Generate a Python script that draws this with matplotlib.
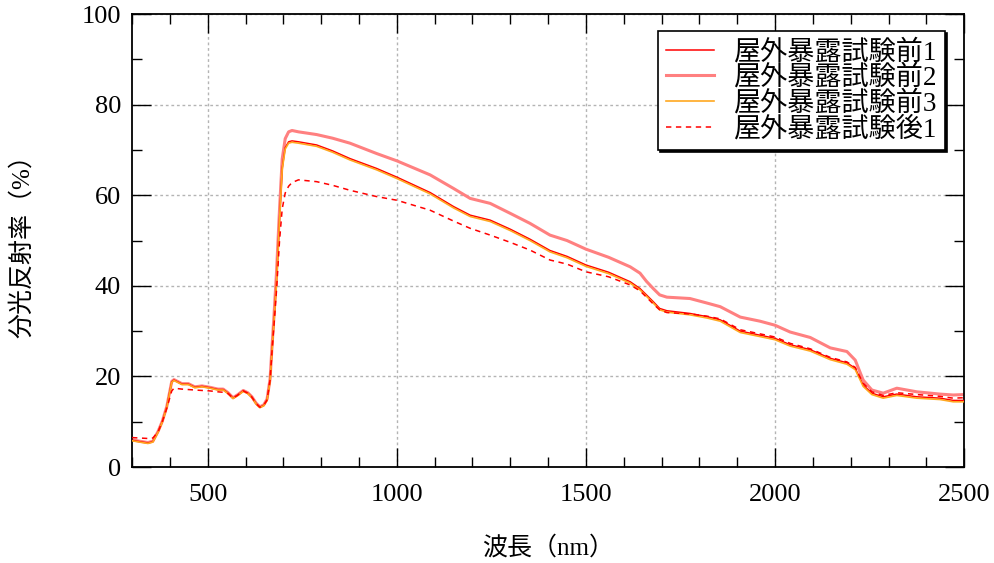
import numpy as np
import matplotlib
matplotlib.use("Agg")
import matplotlib.pyplot as plt
from matplotlib.ticker import MultipleLocator

plt.rcParams['font.family'] = ['Liberation Serif', 'Noto Sans CJK JP', 'DejaVu Sans']

# wavelength grid (nm), shared by all series
wavelength = [300, 320, 342, 355, 369, 380, 392, 405, 411, 432, 449, 466, 485, 506, 527, 541,
              554, 567, 580, 594, 606, 617, 628, 638, 648, 657, 665, 670, 675, 682, 690, 697,
              705, 714, 723, 740, 788, 830, 876, 947, 1000, 1088, 1150, 1194, 1247, 1300, 1352,
              1405, 1450, 1500, 1560, 1617, 1643, 1660, 1678, 1695, 1714, 1775, 1820, 1855, 1908,
              1960, 2000, 2040, 2093, 2146, 2190, 2212, 2233, 2256, 2286, 2322, 2375, 2436, 2471, 2500]

before_1 = [5.9, 5.6, 5.3, 5.6, 7.8, 10.0, 13.3, 18.8, 19.2, 18.3, 18.3, 17.6, 17.8, 17.5, 17.1, 17.1,
            16.3, 15.2, 15.9, 16.8, 16.3, 15.4, 14.0, 13.2, 13.6, 14.8, 19.2, 25.8, 32.0, 41.0, 55.0, 66.0,
            70.5, 71.8, 72.0, 71.8, 71.1, 69.8, 68.1, 65.9, 64.0, 60.6, 57.5, 55.6, 54.5, 52.5, 50.3,
            47.8, 46.5, 44.6, 43.0, 40.9, 39.4, 38.0, 36.5, 35.0, 34.5, 33.9, 33.2, 32.5, 30.0,
            29.1, 28.4, 27.0, 25.9, 24.0, 23.0, 21.8, 18.1, 16.3, 15.5, 16.1, 15.5, 15.2, 14.7, 14.7]

before_2 = [6.0, 5.7, 5.4, 5.7, 7.9, 10.1, 13.4, 18.9, 19.3, 18.4, 18.4, 17.7, 17.9, 17.6, 17.2, 17.2,
            16.4, 15.3, 16.0, 16.9, 16.4, 15.5, 14.1, 13.3, 13.7, 15.0, 19.5, 26.5, 33.0, 43.0, 57.0, 68.0,
            72.5, 74.0, 74.3, 74.0, 73.4, 72.6, 71.5, 69.2, 67.6, 64.5, 61.5, 59.3, 58.2, 56.0, 53.8,
            51.2, 50.0, 48.1, 46.3, 44.2, 42.8, 41.0, 39.4, 38.0, 37.5, 37.2, 36.2, 35.4, 33.1,
            32.2, 31.3, 29.8, 28.6, 26.3, 25.5, 23.6, 19.2, 17.0, 16.3, 17.4, 16.6, 16.1, 15.9, 16.0]

before_3 = [5.8, 5.5, 5.2, 5.5, 7.7, 9.9, 13.2, 18.7, 19.1, 18.2, 18.2, 17.5, 17.7, 17.4, 17.0, 17.0,
            16.2, 15.1, 15.8, 16.7, 16.2, 15.3, 13.9, 13.1, 13.5, 14.7, 19.0, 25.5, 31.7, 40.6, 54.6, 65.7,
            70.2, 71.5, 71.7, 71.5, 70.8, 69.5, 67.8, 65.6, 63.7, 60.3, 57.2, 55.3, 54.2, 52.2, 50.0,
            47.5, 46.2, 44.3, 42.7, 40.6, 39.1, 37.7, 36.2, 34.7, 34.2, 33.6, 32.9, 32.2, 29.7,
            28.8, 28.1, 26.7, 25.6, 23.7, 22.7, 21.5, 17.8, 16.0, 15.2, 15.8, 15.2, 14.9, 14.4, 14.4]

after_1 = [6.5, 6.4, 6.3, 6.4, 7.8, 10.0, 13.0, 16.8, 17.4, 17.2, 17.1, 17.0, 16.9, 16.8, 16.6, 16.5,
           16.2, 15.2, 15.9, 16.8, 16.3, 15.4, 14.0, 13.2, 13.6, 14.8, 19.2, 25.5, 31.0, 39.0, 50.0, 57.0,
           60.5, 62.0, 62.8, 63.4, 63.0, 62.2, 61.1, 59.7, 58.9, 56.7, 54.3, 52.7, 51.2, 49.6, 47.9,
           45.7, 44.8, 43.1, 42.0, 40.2, 38.9, 37.5, 36.0, 34.7, 34.1, 33.8, 33.3, 32.7, 30.3,
           29.4, 28.7, 27.3, 26.1, 24.2, 23.2, 22.0, 18.5, 16.6, 15.8, 16.4, 16.0, 15.6, 15.2, 15.3]

labels = ['屋外暴露試験前1', '屋外暴露試験前2', '屋外暴露試験前3', '屋外暴露試験後1']

fig = plt.figure(figsize=(9.95, 5.63), dpi=100)
ax = fig.add_axes([0.1327, 0.1705, 0.8363, 0.8045])

ax.plot(wavelength, before_1, color='#ff0000', lw=1.1, label=labels[0], zorder=3)
ax.plot(wavelength, before_2, color='#ff8080', lw=2.2, label=labels[1], zorder=2)
ax.plot(wavelength, before_3, color='#ffa820', lw=1.2, label=labels[2], zorder=4)
ax.plot(wavelength, after_1, color='#ff0000', lw=1.1, ls=(0, (3.5, 3)), label=labels[3], zorder=5)

ax.set_xlim(300, 2500)
ax.set_ylim(0, 100)
ax.xaxis.set_major_locator(MultipleLocator(500))
ax.xaxis.set_minor_locator(MultipleLocator(100))
ax.yaxis.set_major_locator(MultipleLocator(20))
ax.yaxis.set_minor_locator(MultipleLocator(10))
ax.tick_params(which='both', direction='in', top=True, right=True, width=1.0, color='black')
ax.tick_params(which='major', length=13.5)
ax.tick_params(which='minor', length=7)
ax.tick_params(axis='x', which='major', pad=12, labelsize=19)
ax.tick_params(axis='y', which='major', pad=8, labelsize=19)
for s in ax.spines.values():
    s.set_linewidth(1.3)

ax.grid(True, which='major', color='#b4b4b4', lw=1.0, ls=(0, (2, 2)))
ax.set_axisbelow(True)

ax.set_xlabel('波長（nm）', fontsize=18, labelpad=22)
ax.set_ylabel('分光反射率（%）', fontsize=18, labelpad=34)

leg = ax.legend(loc='upper right', bbox_to_anchor=(0.977, 0.962), borderaxespad=0,
                fontsize=19.5, frameon=True, fancybox=False, framealpha=1, edgecolor='black',
                borderpad=0.3, labelspacing=0.0, handlelength=1.8, handletextpad=0.7,
                shadow={'color': 'black', 'alpha': 1, 'ox': 1.5, 'oy': -1.5})
leg.get_frame().set_linewidth(1.2)

plt.savefig('out.png', dpi=100)
